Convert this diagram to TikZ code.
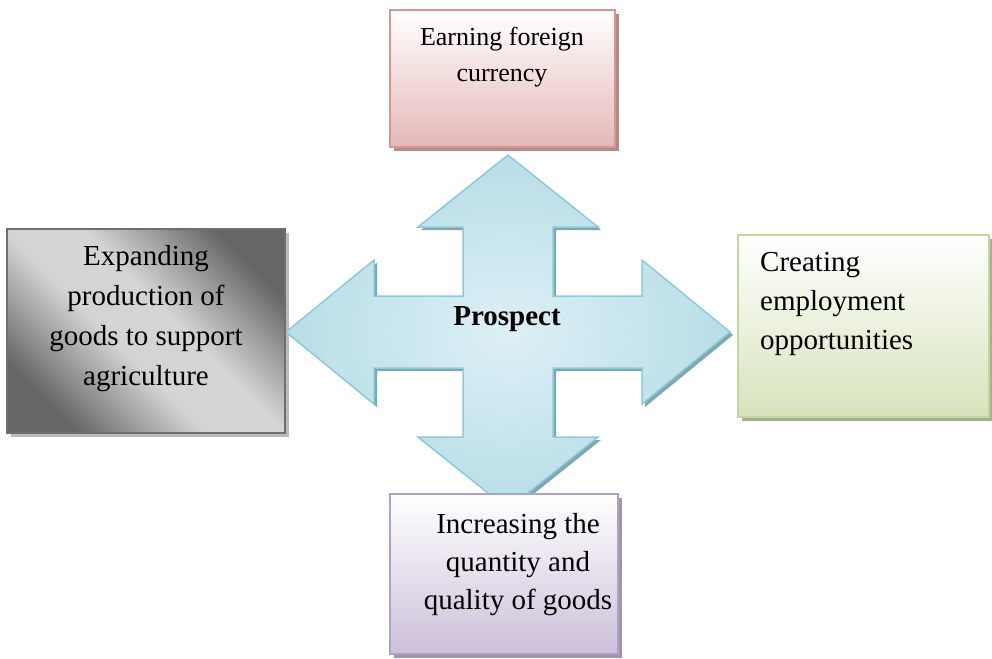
\documentclass[tikz,border=0pt]{standalone}
\usepackage{fontspec}
\setmainfont{Liberation Serif}
\definecolor{pinkB}{HTML}{D99594}
\definecolor{pinkF}{HTML}{E5B8B7}
\definecolor{pinkS}{HTML}{B08C8B}
\definecolor{greenB}{HTML}{C3D69B}
\definecolor{greenF}{HTML}{D6E3BC}
\definecolor{greenS}{HTML}{A5B08F}
\definecolor{purpB}{HTML}{B2A1C7}
\definecolor{purpF}{HTML}{CCC0D9}
\definecolor{purpS}{HTML}{A093B0}
\definecolor{grayB}{HTML}{6F6F6F}
\definecolor{grayD}{HTML}{666666}
\definecolor{grayL}{HTML}{D4D4D4}
\definecolor{grayS}{HTML}{BBBBBB}
\definecolor{arrB}{HTML}{8ECBDA}
\definecolor{arrL}{HTML}{DDF0F5}
\definecolor{arrD}{HTML}{B8DEE8}
\definecolor{arrS}{HTML}{80A6B0}
\pgfdeclarehorizontalshading{grayband}{100bp}{color(0bp)=(grayD); color(25bp)=(grayD); color(44bp)=(grayL); color(56bp)=(grayL); color(75bp)=(grayD); color(100bp)=(grayD)}
\pgfdeclarelayer{bg}
\pgfsetlayers{bg,main}
\newcommand\quadarrow[1]{\path[#1] (0,-177) -- (90,-105) -- (45,-105) -- (45,-36) -- (134,-36) -- (134,-72) -- (222,0) -- (134,72) -- (134,36) -- (45,36) -- (45,105) -- (90,105) -- (0,177) -- (-90,105) -- (-45,105) -- (-45,36) -- (-134,36) -- (-134,72) -- (-222,0) -- (-134,-72) -- (-134,-36) -- (-45,-36) -- (-45,-105) -- (-90,-105) -- cycle;}
\begin{document}
\begin{tikzpicture}[x=1pt,y=-1pt,
  box/.style={rectangle, line width=1.6pt, inner sep=0pt, outer sep=0pt},
  txt/.style={inner sep=0pt, anchor=north, align=center},
  fA/.style={font=\fontsize{26}{36}\selectfont},
  fB/.style={font=\fontsize{29}{39}\selectfont}]
\useasboundingbox (0,0) rectangle (992,658);
% central four-way arrow
\begin{scope}[shift={(508,332)}]
  \quadarrow{draw=arrB, line width=1.5pt, inner color=arrL, outer color=arrD}
\end{scope}
% boxes
\node[box, draw=pinkB, top color=white, bottom color=pinkF,
      minimum width=225pt, minimum height=137pt] (earn) at (502.5,78.5) {};
\node[box, draw=grayB, shading=grayband, shading angle=45,
      minimum width=278pt, minimum height=204pt] (expand) at (146,331) {};
\node[box, draw=greenB, top color=white, bottom color=greenF,
      minimum width=251pt, minimum height=182pt] (employ) at (863.5,326) {};
\node[box, draw=purpB, top color=white, bottom color=purpF,
      minimum width=228pt, minimum height=160pt] (quality) at (504,574) {};
% shadows
\begin{pgfonlayer}{bg}
  \begin{scope}[shift={(511,335)}]
    \quadarrow{fill=arrS}
  \end{scope}
  \fill[pinkS] ([shift={(4,4)}]earn.north west) rectangle ([shift={(4,4)}]earn.south east);
  \fill[grayS] ([shift={(4,4)}]expand.north west) rectangle ([shift={(4,4)}]expand.south east);
  \fill[greenS] ([shift={(4,4)}]employ.north west) rectangle ([shift={(4,4)}]employ.south east);
  \fill[purpS] ([shift={(4,4)}]quality.north west) rectangle ([shift={(4,4)}]quality.south east);
\end{pgfonlayer}
% texts
\node[font=\fontsize{29}{29}\selectfont\bfseries, anchor=base, inner sep=0pt] (prospect) at (507,325) {Prospect};
\node[txt, fA] (earnt) at (502,27) {Earning foreign\\currency};
\node[txt, font=\fontsize{29}{40}\selectfont] (expandt) at (146,245) {Expanding\\production of\\goods to support\\agriculture};
\node[txt, fB, anchor=north west, align=left] (employt) at (760,252) {Creating\\employment\\opportunities};
\node[txt, font=\fontsize{29}{38}\selectfont] (qualityt) at (518,513) {Increasing the\\quantity and\\quality of goods};
\end{tikzpicture}
\end{document}
